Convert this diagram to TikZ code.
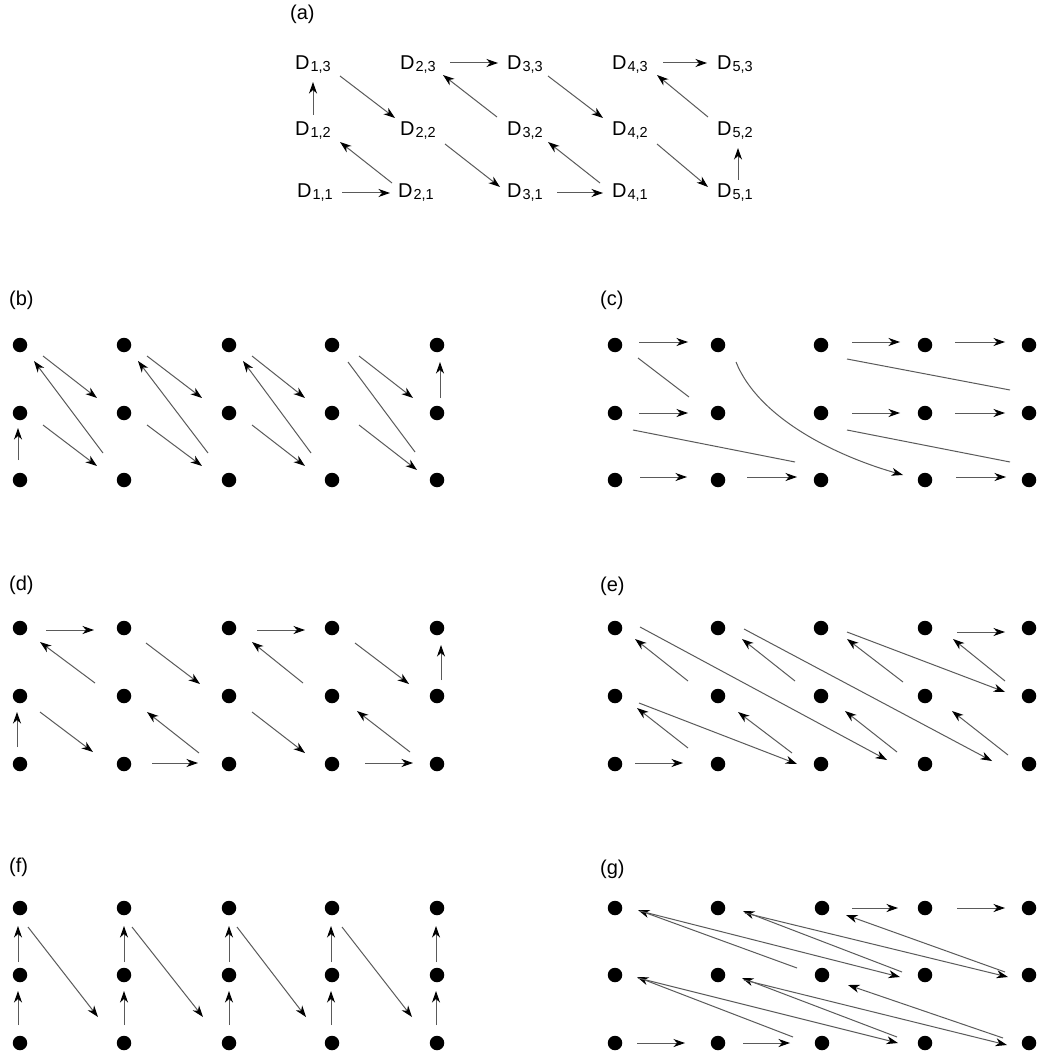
\documentclass[tikz,border=0pt]{standalone}
\usepackage{fontspec}
\setmainfont{Liberation Sans}
\usetikzlibrary{arrows.meta}
\definecolor{linegray}{RGB}{90,90,90}
\tikzset{
  dot/.style={circle, fill=black, inner sep=0pt, minimum size=14.5pt},
  ln/.style={draw=linegray, line width=1pt},
  con/.style={ln, -{Stealth[length=11.5pt,width=8pt,inset=3.5pt,color=black]}},
  dlabel/.style={inner sep=0pt, anchor=base west, font=\fontsize{20}{20}\selectfont},
  plabel/.style={inner sep=0pt, anchor=west, font=\fontsize{20}{20}\selectfont},
}
\newcommand\Dlab[2]{D\kern1pt\raisebox{-2pt}{\fontsize{14.5}{14.5}\selectfont #1,#2}}
\newcommand\cd[5][con]{\draw[#1] ([shift={#3}]#2.center) -- ([shift={#5}]#4.center);}
\newcommand\ca[5][con]{\draw[#1] ([shift={#3}]#2.base west) -- ([shift={#5}]#4.base west);}
\newcommand\dotgrid[5]{%
  \foreach \xx [count=\i] in {#2} {
    \node[dot] (#1\i3) at (\xx,#3) {};
    \node[dot] (#1\i2) at (\xx,#4) {};
    \node[dot] (#1\i1) at (\xx,#5) {};
  }}
\begin{document}
\begin{tikzpicture}[x=1pt,y=-1pt]
\path[use as bounding box, fill=white] (0,0) rectangle (1041,1056);

% ---------- labels ----------
\node[plabel] (la) at (290,14) {(a)};
\node[plabel] (lb) at (9,300) {(b)};
\node[plabel] (lc) at (600,300) {(c)};
\node[plabel] (ld) at (9,585) {(d)};
\node[plabel] (le) at (600,586) {(e)};
\node[plabel] (lf) at (9,867) {(f)};
\node[plabel] (lg) at (600,869) {(g)};

% ---------- panel (a) ----------
\node[dlabel] (a13) at (295,70) {\Dlab13};
\node[dlabel] (a23) at (400,70) {\Dlab23};
\node[dlabel] (a33) at (507,70) {\Dlab33};
\node[dlabel] (a43) at (612,70) {\Dlab43};
\node[dlabel] (a53) at (717,70) {\Dlab53};
\node[dlabel] (a12) at (295,136) {\Dlab12};
\node[dlabel] (a22) at (400,136) {\Dlab22};
\node[dlabel] (a32) at (507,136) {\Dlab32};
\node[dlabel] (a42) at (612,136) {\Dlab42};
\node[dlabel] (a52) at (717,136) {\Dlab52};
\node[dlabel] (a11) at (297,198) {\Dlab11};
\node[dlabel] (a21) at (398,198) {\Dlab21};
\node[dlabel] (a31) at (507,198) {\Dlab31};
\node[dlabel] (a41) at (612,198) {\Dlab41};
\node[dlabel] (a51) at (717,198) {\Dlab51};

\ca{a11}{(45,-5)}{a21}{(-8,-5)}
\ca{a21}{(-6,-15)}{a12}{(45,6)}
\ca{a12}{(18,-21)}{a13}{(18,12)}
\ca{a13}{(45,6)}{a22}{(-5,-18)}
\ca{a22}{(45,8)}{a31}{(-7,-11)}
\ca{a31}{(50,-5)}{a41}{(-9,-5)}
\ca{a41}{(-12,-15)}{a32}{(41,6)}
\ca{a32}{(-10,-19)}{a23}{(43,5)}
\ca{a23}{(50,-7)}{a33}{(-9,-7)}
\ca{a33}{(41,6)}{a42}{(-9,-18)}
\ca{a42}{(45,8)}{a51}{(-9,-11)}
\ca{a51}{(21,-18)}{a52}{(21,12)}
\ca{a52}{(-9,-19)}{a43}{(45,5)}
\ca{a43}{(51,-7)}{a53}{(-10,-7)}

% ---------- dot grids ----------
\dotgrid{b}{20,124,229,332,437}{345}{413}{480}
\dotgrid{c}{615,718,821,925,1029}{345}{413}{480}
\dotgrid{d}{20,124,229,332,437}{628}{696}{764}
\dotgrid{e}{615,718,821,925,1029}{628}{696}{764}
\dotgrid{f}{20,124,229,332,437}{908}{975}{1043}
\dotgrid{g}{615,718,822,925,1029}{908}{975}{1043}

% ---------- panel (b) ----------
\cd{b11}{(-2,-20)}{b12}{(-2,15)}
\cd{b12}{(23,12)}{b21}{(-27,-14)}
\cd{b21}{(-21,-27)}{b13}{(14,16)}
\cd{b13}{(23,11)}{b22}{(-27,-15)}
\cd{b22}{(23,12)}{b31}{(-27,-14)}
\cd{b31}{(-21,-27)}{b23}{(14,16)}
\cd{b23}{(23,11)}{b32}{(-27,-15)}
\cd{b32}{(23,12)}{b41}{(-27,-14)}
\cd{b41}{(-21,-27)}{b33}{(14,16)}
\cd{b33}{(23,11)}{b42}{(-27,-15)}
\cd{b42}{(27,12)}{b51}{(-20,-10)}
\cd[ln]{b51}{(-22,-28)}{b43}{(16,17)}
\cd{b43}{(27,11)}{b52}{(-24,-15)}
\cd{b52}{(3,-15)}{b53}{(3,17)}

% ---------- panel (c) ----------
\cd{c13}{(24,-3)}{c23}{(-30,-3)}
\cd{c33}{(31,-3)}{c43}{(-25,-3)}
\cd{c43}{(30,-3)}{c53}{(-24,-3)}
\cd{c12}{(24,0)}{c22}{(-30,0)}
\cd{c32}{(31,0)}{c42}{(-25,0)}
\cd{c42}{(30,0)}{c52}{(-24,0)}
\cd{c11}{(25,-3)}{c21}{(-31,-3)}
\cd{c21}{(29,-3)}{c31}{(-24,-3)}
\cd{c41}{(31,-3)}{c51}{(-23,-3)}
\cd[ln]{c13}{(23,13)}{c22}{(-29,-16)}
\cd[ln]{c12}{(18,17)}{c31}{(-26,-18)}
\cd[ln]{c33}{(26,14)}{c52}{(-19,-23)}
\cd[ln]{c32}{(26,17)}{c51}{(-19,-18)}
\draw[con] ([shift={(18,17)}]c23.center) .. controls +(22,55) and +(-70,-20) .. ([shift={(-22,-5)}]c41.center);

% ---------- panel (d) ----------
\cd{d11}{(-3,-17)}{d12}{(-3,16)}
\cd{d12}{(20,16)}{d21}{(-31,-12)}
\cd{d21}{(28,-1)}{d31}{(-31,-1)}
\cd{d31}{(-30,-11)}{d22}{(23,16)}
\cd{d22}{(-29,-13)}{d13}{(20,14)}
\cd{d13}{(26,2)}{d23}{(-30,2)}
\cd{d23}{(22,15)}{d32}{(-29,-12)}
\cd{d32}{(23,16)}{d41}{(-27,-11)}
\cd{d41}{(33,-1)}{d51}{(-24,-1)}
\cd{d51}{(-27,-12)}{d42}{(25,15)}
\cd{d42}{(-29,-13)}{d33}{(23,14)}
\cd{d33}{(28,2)}{d43}{(-27,2)}
\cd{d43}{(23,15)}{d52}{(-28,-12)}
\cd{d52}{(4,-16)}{d53}{(4,17)}

% ---------- panel (e) ----------
\cd{e11}{(20,-1)}{e21}{(-35,-1)}
\cd{e21}{(-30,-16)}{e12}{(22,12)}
\cd{e12}{(24,7)}{e31}{(-24,0)}
\cd{e31}{(-29,-11)}{e22}{(20,16)}
\cd{e22}{(-30,-15)}{e13}{(20,11)}
\cd{e13}{(25,-1)}{e41}{(-38,-4)}
\cd{e41}{(-28,-12)}{e32}{(24,15)}
\cd{e32}{(-26,-15)}{e23}{(24,11)}
\cd{e23}{(26,1)}{e51}{(-37,-3)}
\cd{e51}{(-21,-9)}{e42}{(27,15)}
\cd{e42}{(-22,-14)}{e33}{(26,11)}
\cd{e33}{(26,4)}{e52}{(-24,-4)}
\cd{e52}{(-24,-15)}{e43}{(28,11)}
\cd{e43}{(32,4)}{e53}{(-24,4)}

% ---------- panel (f) ----------
\cd{f11}{(-2,-18)}{f12}{(-2,16)}
\cd{f12}{(-2,-13)}{f13}{(-2,18)}
\cd{f21}{(0,-18)}{f22}{(0,16)}
\cd{f22}{(0,-13)}{f23}{(0,18)}
\cd{f31}{(0,-18)}{f32}{(0,16)}
\cd{f32}{(0,-13)}{f33}{(0,18)}
\cd{f41}{(-1,-18)}{f42}{(-1,16)}
\cd{f42}{(-1,-13)}{f43}{(-1,18)}
\cd{f51}{(-1,-18)}{f52}{(-1,16)}
\cd{f52}{(-1,-13)}{f53}{(-1,18)}
\cd{f13}{(8,19)}{f21}{(-26,-26)}
\cd{f23}{(8,19)}{f31}{(-26,-26)}
\cd{f33}{(8,19)}{f41}{(-26,-26)}
\cd{f43}{(10,19)}{f51}{(-25,-26)}

% ---------- panel (g) ----------
\cd{g11}{(22,0)}{g21}{(-33,0)}
\cd{g21}{(25,0)}{g31}{(-32,0)}
\cd{g31}{(-29,-6)}{g12}{(22,2)}
\cd{g12}{(23,3)}{g41}{(-27,0)}
\cd{g41}{(-28,-6)}{g22}{(24,3)}
\cd{g22}{(26,5)}{g51}{(-22,2)}
\cd{g51}{(-26,-5)}{g32}{(26,10)}
\cd{g32}{(-25,-7)}{g13}{(23,2)}
\cd{g13}{(25,3)}{g42}{(-25,2)}
\cd{g42}{(-23,-3)}{g23}{(25,3)}
\cd{g23}{(27,5)}{g52}{(-21,2)}
\cd{g52}{(-24,-3)}{g33}{(24,7)}
\cd{g33}{(30,0)}{g43}{(-27,0)}
\cd{g43}{(32,0)}{g53}{(-24,0)}
\end{tikzpicture}
\end{document}
